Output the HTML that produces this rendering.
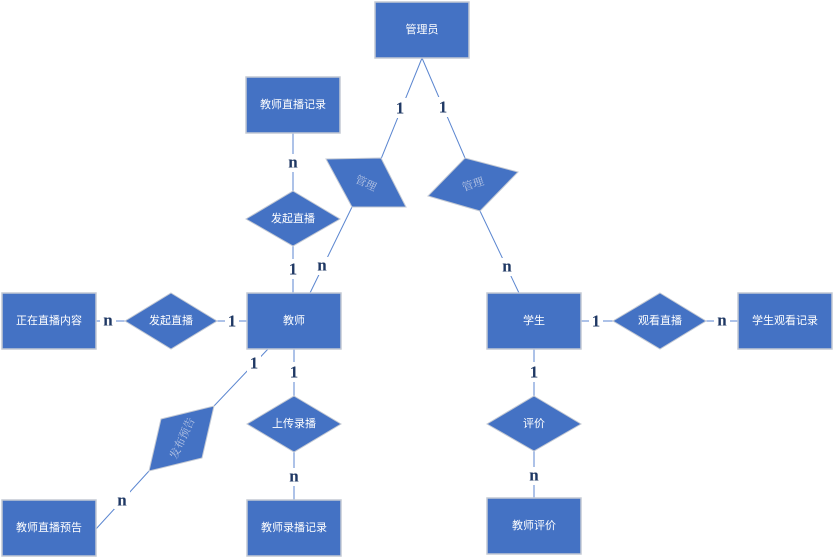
<!DOCTYPE html>
<html><head><meta charset="utf-8"><style>
html,body{margin:0;padding:0;background:#fff;}
svg{display:block;}
.n{fill:#4472c4;stroke:#c3c9d4;stroke-width:1.5;}
.d{fill:#4472c4;stroke:#c3c9d4;stroke-width:1;}
.t{fill:#fff;font-family:"Liberation Sans","Noto Sans CJK SC",sans-serif;font-size:11px;text-anchor:middle;dominant-baseline:central;}
.r{fill:#b8c6e4;font-family:"Noto Serif CJK SC","Liberation Serif",serif;font-size:11px;text-anchor:middle;dominant-baseline:central;}
.l{stroke:#5b86d0;stroke-width:1;}
.c{fill:#1f3864;font-family:"Liberation Serif",serif;font-size:17px;font-weight:bold;text-anchor:middle;dominant-baseline:central;}
.bg{fill:#fff;}
</style></head><body>
<svg width="834" height="559" viewBox="0 0 834 559" xmlns="http://www.w3.org/2000/svg">
<g class="l">
<line x1="422" y1="58" x2="381" y2="159"/>
<line x1="422" y1="58" x2="465" y2="158"/>
<line x1="352" y1="207" x2="310" y2="293"/>
<line x1="480" y1="211" x2="519" y2="293"/>
<line x1="293" y1="133" x2="293" y2="191"/>
<line x1="293" y1="246" x2="293" y2="293"/>
<line x1="96" y1="321" x2="125" y2="321"/>
<line x1="217" y1="321" x2="247" y2="321"/>
<line x1="268" y1="349" x2="214" y2="406"/>
<line x1="149" y1="471" x2="96" y2="529"/>
<line x1="294" y1="349" x2="294" y2="396"/>
<line x1="294" y1="452" x2="294" y2="500"/>
<line x1="581" y1="321" x2="613" y2="321"/>
<line x1="706" y1="321" x2="738" y2="321"/>
<line x1="534" y1="349" x2="534" y2="396"/>
<line x1="534" y1="451" x2="534" y2="498"/>
</g>
<rect class="n" x="375" y="2" width="94" height="56"/><text class="t" x="422" y="30">管理员</text>
<rect class="n" x="246" y="77" width="94" height="56"/><text class="t" x="293" y="105">教师直播记录</text>
<rect class="n" x="2" y="293" width="94" height="56"/><text class="t" x="49" y="321">正在直播内容</text>
<rect class="n" x="247" y="293" width="94" height="56"/><text class="t" x="294" y="321">教师</text>
<rect class="n" x="487" y="293" width="94" height="56"/><text class="t" x="534" y="321">学生</text>
<rect class="n" x="738" y="293" width="94" height="56"/><text class="t" x="785" y="321">学生观看记录</text>
<rect class="n" x="2" y="500" width="94" height="56"/><text class="t" x="49" y="528">教师直播预告</text>
<rect class="n" x="247" y="500" width="94" height="56"/><text class="t" x="294" y="528">教师录播记录</text>
<rect class="n" x="487" y="498" width="94" height="56"/><text class="t" x="534" y="526">教师评价</text>

<polygon class="d" points="293,191 340,219 293,246 246,219"/><text class="t" x="293" y="219">发起直播</text>
<polygon class="d" points="171,293 217,321 171,349 125,321"/><text class="t" x="171" y="321">发起直播</text>
<polygon class="d" points="294,396 341,424 294,452 247,424"/><text class="t" x="294" y="424">上传录播</text>
<polygon class="d" points="660,293 706,321 660,349 613,321"/><text class="t" x="660" y="321">观看直播</text>
<polygon class="d" points="534,396 581,424 534,451 487,424"/><text class="t" x="534" y="424">评价</text>
<polygon class="d" points="161,419 214,406 202,458 149,471"/><text class="r" x="182" y="438" transform="rotate(-65 182 438)">发布预告</text>
<polygon class="d" points="326,159 381,158 406,207 352,207"/><text class="r" x="366" y="183" transform="rotate(25 366 183)">管理</text>
<polygon class="d" points="428,196 465,158 518,172 480,211"/><text class="r" x="473" y="184" transform="rotate(-18 473 184)">管理</text>

<g>
<rect class="bg" x="393" y="98" width="14" height="20"/><text class="c" x="400" y="108">1</text>
<rect class="bg" x="436" y="97" width="14" height="20"/><text class="c" x="443" y="107">1</text>
<rect class="bg" x="314" y="257" width="16" height="18"/><text class="c" x="322" y="265">n</text>
<rect class="bg" x="499" y="258" width="16" height="18"/><text class="c" x="507" y="266">n</text>
<rect class="bg" x="285" y="154" width="16" height="18"/><text class="c" x="293" y="162">n</text>
<rect class="bg" x="286" y="259" width="14" height="20"/><text class="c" x="293" y="269">1</text>
<rect class="bg" x="100" y="312" width="16" height="18"/><text class="c" x="108" y="320">n</text>
<rect class="bg" x="225" y="311" width="14" height="20"/><text class="c" x="232" y="321">1</text>
<rect class="bg" x="247" y="353" width="14" height="20"/><text class="c" x="254" y="363">1</text>
<rect class="bg" x="114" y="491" width="16" height="18"/><text class="c" x="122" y="500">n</text>
<rect class="bg" x="287" y="362" width="14" height="20"/><text class="c" x="294" y="372">1</text>
<rect class="bg" x="286" y="468" width="16" height="18"/><text class="c" x="294" y="476">n</text>
<rect class="bg" x="589" y="311" width="14" height="20"/><text class="c" x="596" y="321">1</text>
<rect class="bg" x="714" y="312" width="16" height="18"/><text class="c" x="722" y="320">n</text>
<rect class="bg" x="527" y="362" width="14" height="20"/><text class="c" x="534" y="372">1</text>
<rect class="bg" x="526" y="467" width="16" height="18"/><text class="c" x="534" y="475">n</text>
</g>
</svg>
</body></html>
